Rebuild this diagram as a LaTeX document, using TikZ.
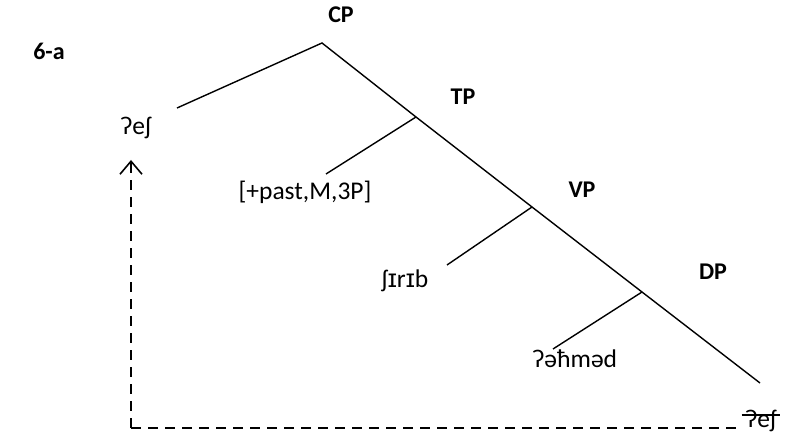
\documentclass[tikz,border=0pt]{standalone}
\usepackage{fontspec}
\setmainfont{Carlito}
\newfontfamily\ipaI{Liberation Sans}
\usetikzlibrary{arrows.meta,calc}
\begin{document}
\begin{tikzpicture}[x=1pt,y=-1pt,
  branch/.style={line width=1.4pt},
  lab/.style={font=\fontsize{24}{28}\selectfont\bfseries, inner sep=0pt},
  word/.style={font=\fontsize{25.5}{30}\selectfont, inner sep=0pt},
  move/.style={line width=1.5pt, dash pattern=on 10pt off 7pt}]
\path[use as bounding box] (0,0) rectangle (801,435);
% labels
\node[lab] (ex) at (49,51) {6-a};
\node[lab] (cpl) at (341,15) {CP};
\node[lab] (tpl) at (463,97) {TP};
\node[lab] (vpl) at (582,190) {VP};
\node[lab] (dpl) at (713,272) {DP};
% tree points
\coordinate (cp) at (322,43);
\coordinate (spec) at (177,108);
\coordinate (tp) at (416,117);
\coordinate (tleaf) at (326,174);
\coordinate (vp) at (532,207);
\coordinate (vleaf) at (447,265);
\coordinate (dp) at (642,292);
\coordinate (dleaf) at (553,349);
\coordinate (bottom) at (760,383);
\draw[branch] (spec) -- (cp) -- (tp) -- (vp) -- (dp) -- (bottom);
\draw[branch] (tp) -- (tleaf);
\draw[branch] (vp) -- (vleaf);
\draw[branch] (dp) -- (dleaf);
% words
\node[word] (esh) at (136,128) {ʔeʃ};
\node[word] (tense) at (305,192) {[+past,M,3P]};
\node[word] (verb) at (405,281) {ʃ{\ipaI ɪ}r{\ipaI ɪ}b};
\node[word] (subj) at (575,359) {ʔəħməd};
\node[word] (trace) at (761,421) {ʔeʃ};
\draw[line width=1.3pt] ($(trace.west)+(-4,-6)$) -- ($(trace.east)+(4,-6)$);
% movement arrow
\coordinate (corner) at (131,428);
\coordinate (tip) at (131,160);
\draw[move] ($(trace.west)+(-10,7)$) -- (corner);
\draw[move, -{Straight Barb[length=13pt,width=22pt,line width=1.6pt]}] (corner) -- (tip);
\end{tikzpicture}
\end{document}
